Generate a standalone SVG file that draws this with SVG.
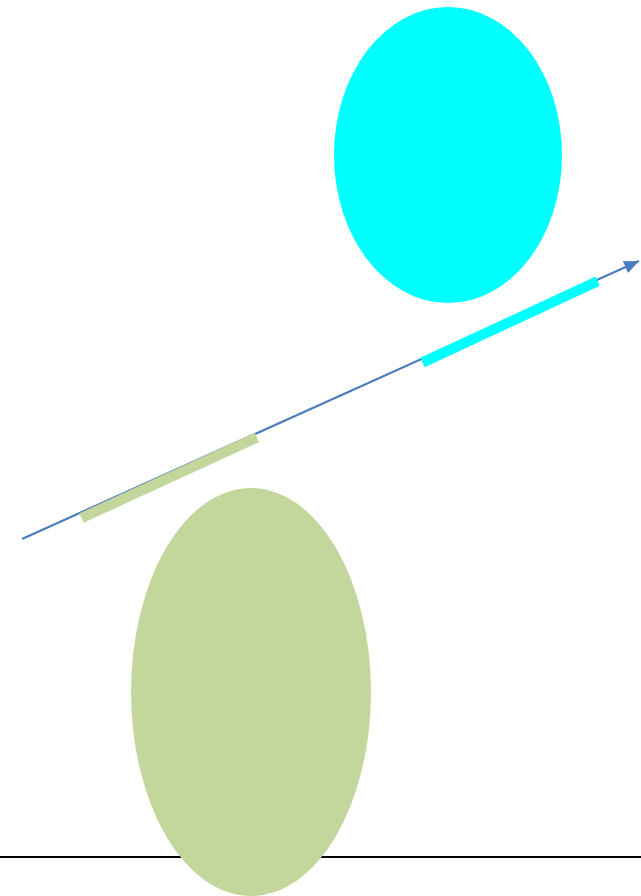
<svg xmlns="http://www.w3.org/2000/svg" width="641" height="896" viewBox="0 0 641 896">
  <style>
    .axis { stroke: #4A7EBB; stroke-width: 2.2; fill: none; }
    .base { stroke: #000000; stroke-width: 2; }
    .bar { stroke-width: 10.3; stroke-linecap: butt; fill: none; }
    .green { fill: #C3D69B; }
    .cyan { fill: #00FFFF; }
  </style>
  <defs>
    <marker id="arrow" markerUnits="userSpaceOnUse" markerWidth="15" markerHeight="13" refX="15" refY="6.5" orient="auto">
      <path d="M0,0 L15,6.5 L0,13 z" fill="#4A7EBB"/>
    </marker>
  </defs>
  <rect width="641" height="896" fill="#FFFFFF"/>
  <line class="base" x1="0" y1="857" x2="641" y2="857"/>
  <g id="cyan-ellipse">
    <ellipse class="cyan" cx="448" cy="155" rx="114" ry="148"/>
  </g>
  <g id="green-ellipse">
    <ellipse class="green" cx="251" cy="692" rx="120" ry="204"/>
  </g>
  <g id="connectors">
    <line class="axis" x1="22" y1="539" x2="639" y2="261" marker-end="url(#arrow)"/>
    <line class="bar" stroke="#C3D69B" x1="81.5" y1="518" x2="257" y2="437.5"/>
    <line class="bar" stroke="#00FFFF" x1="422.5" y1="362.5" x2="597.7" y2="281.2"/>
  </g>
</svg>
